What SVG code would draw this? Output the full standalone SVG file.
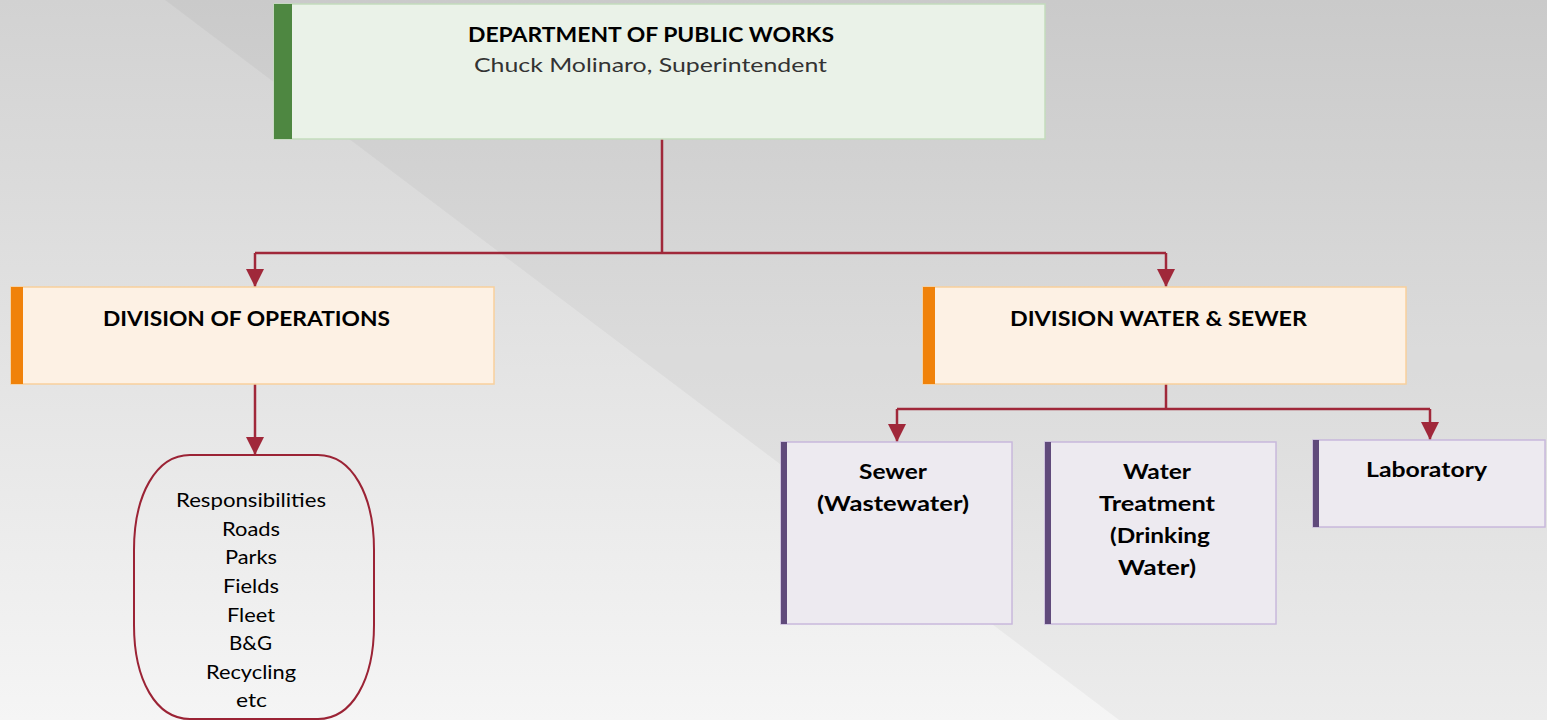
<svg xmlns="http://www.w3.org/2000/svg" width="1547" height="720" viewBox="0 0 1547 720">
<defs>
<linearGradient id="bg" x1="0" y1="0" x2="0" y2="1">
<stop offset="0" stop-color="#d2d2d2"/>
<stop offset="1" stop-color="#f5f5f5"/>
</linearGradient>
<marker id="arr" markerUnits="userSpaceOnUse" markerWidth="20" markerHeight="20" viewBox="0 0 20 20" refX="18" refY="10" orient="auto">
<path d="M0,1 L18,10 L0,19 Z" fill="#a0283a"/>
</marker>
<style>
.t{font-family:"Lato","Open Sans","Liberation Sans",sans-serif;fill:#000;text-anchor:middle}
.b{font-weight:bold;font-size:20px}
.r{font-size:20px}
.c{fill:none;stroke:#a0283a;stroke-width:2.5}
.green{fill:#eaf2e8;stroke:#c3dcbd;stroke-width:1.5}
.orange{fill:#fdf1e4;stroke:#f8cf9c;stroke-width:1.5}
.purple{fill:#edeaf0;stroke:#c8b8dc;stroke-width:1.5}
</style>
</defs>
<rect width="1547" height="720" fill="url(#bg)"/>
<polygon points="165,0 1547,0 1547,720 1119,720" fill="#000" opacity="0.035"/>

<g id="connectors">
<path class="c" d="M662,139 V253 M255,253 H1166"/>
<path class="c" d="M255,253 V287" marker-end="url(#arr)"/>
<path class="c" d="M1166,253 V287" marker-end="url(#arr)"/>
<path class="c" d="M255,384 V455" marker-end="url(#arr)"/>
<path class="c" d="M1166,384 V409 M897,409 H1430"/>
<path class="c" d="M897,409 V442" marker-end="url(#arr)"/>
<path class="c" d="M1430,409 V440" marker-end="url(#arr)"/>
</g>

<g id="dpw">
<rect class="green" x="274" y="4" width="771" height="135"/>
<rect x="274" y="4" width="18" height="135" fill="#4e8741"/>
<text class="t b" x="651" y="42" textLength="366" lengthAdjust="spacingAndGlyphs">DEPARTMENT OF PUBLIC WORKS</text>
<text class="t r" x="650.5" y="72" style="fill:#333" textLength="353" lengthAdjust="spacingAndGlyphs">Chuck Molinaro, Superintendent</text>
</g>

<g id="ops">
<rect class="orange" x="11" y="287" width="483" height="97"/>
<rect x="11" y="287" width="12" height="97" fill="#f0820a"/>
<text class="t b" x="246.5" y="326" textLength="287" lengthAdjust="spacingAndGlyphs">DIVISION OF OPERATIONS</text>
</g>

<g id="water-sewer">
<rect class="orange" x="923" y="287" width="483" height="97"/>
<rect x="923" y="287" width="12" height="97" fill="#f0820a"/>
<text class="t b" x="1158.5" y="326" textLength="297" lengthAdjust="spacingAndGlyphs">DIVISION WATER &amp; SEWER</text>
</g>

<g id="responsibilities">
<path d="M190,455 H318 C352,455 374,495 374,550 V625 C374,680 352,719 318,719 H190 C156,719 134,680 134,625 V550 C134,495 156,455 190,455 Z" fill="none" stroke="#9b2335" stroke-width="2"/>
<text class="t r" x="251" y="507" textLength="150" lengthAdjust="spacingAndGlyphs">Responsibilities</text>
<text class="t r" x="251" y="535.5" textLength="58" lengthAdjust="spacingAndGlyphs">Roads</text>
<text class="t r" x="251" y="564" textLength="52" lengthAdjust="spacingAndGlyphs">Parks</text>
<text class="t r" x="251" y="593" textLength="56" lengthAdjust="spacingAndGlyphs">Fields</text>
<text class="t r" x="251" y="621.5" textLength="48" lengthAdjust="spacingAndGlyphs">Fleet</text>
<text class="t r" x="250.5" y="650" textLength="43" lengthAdjust="spacingAndGlyphs">B&amp;G</text>
<text class="t r" x="251" y="678.5" textLength="90" lengthAdjust="spacingAndGlyphs">Recycling</text>
<text class="t r" x="251.5" y="707" textLength="31" lengthAdjust="spacingAndGlyphs">etc</text>
</g>

<g id="sewer">
<rect class="purple" x="781" y="442" width="231" height="182"/>
<rect x="781" y="442" width="6" height="182" fill="#604a7b"/>
<text class="t b" x="893" y="479" textLength="68" lengthAdjust="spacingAndGlyphs">Sewer</text>
<text class="t b" x="893" y="511" textLength="152" lengthAdjust="spacingAndGlyphs">(Wastewater)</text>
</g>

<g id="water-treatment">
<rect class="purple" x="1045" y="442" width="231" height="182"/>
<rect x="1045" y="442" width="6" height="182" fill="#604a7b"/>
<text class="t b" x="1157" y="479" textLength="68" lengthAdjust="spacingAndGlyphs">Water</text>
<text class="t b" x="1157" y="511" textLength="116" lengthAdjust="spacingAndGlyphs">Treatment</text>
<text class="t b" x="1160" y="543" textLength="100" lengthAdjust="spacingAndGlyphs">(Drinking</text>
<text class="t b" x="1157" y="575" textLength="78" lengthAdjust="spacingAndGlyphs">Water)</text>
</g>

<g id="laboratory">
<rect class="purple" x="1313" y="440" width="232" height="87"/>
<rect x="1313" y="440" width="6" height="87" fill="#604a7b"/>
<text class="t b" x="1426.5" y="477" textLength="121" lengthAdjust="spacingAndGlyphs">Laboratory</text>
</g>
</svg>
